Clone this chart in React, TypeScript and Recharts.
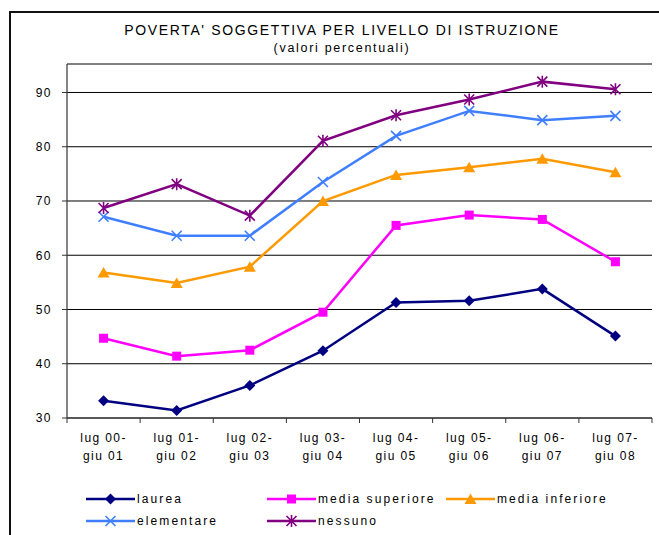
import React from 'react';
import { LineChart, Line, XAxis, YAxis, CartesianGrid, Legend } from 'recharts';

// periods (x categories), split into two lines at the dash
const PERIODS = [
  'lug 00-giu 01', 'lug 01-giu 02', 'lug 02-giu 03', 'lug 03-giu 04',
  'lug 04-giu 05', 'lug 05-giu 06', 'lug 06-giu 07', 'lug 07-giu 08',
];

const LAUREA = [33.2, 31.4, 36.0, 42.4, 51.3, 51.6, 53.8, 45.1];
const MEDIA_SUPERIORE = [44.7, 41.4, 42.5, 49.5, 65.5, 67.4, 66.6, 58.8];
const MEDIA_INFERIORE = [56.8, 54.9, 57.9, 70.0, 74.8, 76.2, 77.8, 75.3];
const ELEMENTARE = [67.1, 63.6, 63.6, 73.5, 82.0, 86.6, 84.9, 85.7];
const NESSUNO = [68.7, 73.1, 67.3, 81.1, 85.8, 88.7, 92.0, 90.6];

const Y_TICKS = [30, 40, 50, 60, 70, 80, 90];

type Marker = 'diamond' | 'square' | 'triangle' | 'cross' | 'star';

const SERIES: { key: string; name: string; color: string; marker: Marker; values: number[] }[] = [
  { key: 'laurea', name: 'laurea', color: '#000080', marker: 'diamond', values: LAUREA },
  { key: 'mediaSup', name: 'media superiore', color: '#ff00ff', marker: 'square', values: MEDIA_SUPERIORE },
  { key: 'mediaInf', name: 'media inferiore', color: '#ff9900', marker: 'triangle', values: MEDIA_INFERIORE },
  { key: 'elementare', name: 'elementare', color: '#3f7fff', marker: 'cross', values: ELEMENTARE },
  { key: 'nessuno', name: 'nessuno', color: '#800080', marker: 'star', values: NESSUNO },
];

const data = PERIODS.map((period, i) => {
  const row: Record<string, string | number> = { period };
  SERIES.forEach(s => { row[s.key] = s.values[i]; });
  return row;
});

const W = 659;
const H = 535;
const MARGIN = { top: 64, right: 7, bottom: 57, left: 0 };
const Y_AXIS_W = 67;
const BAND = (W - MARGIN.right - Y_AXIS_W) / PERIODS.length;
const FONT = '"Liberation Sans", Arial, sans-serif';

const drawMarker = (m: Marker, cx: number, cy: number, color: string) => {
  switch (m) {
    case 'diamond':
      return <path d={`M${cx},${cy - 5.5}L${cx + 5.5},${cy}L${cx},${cy + 5.5}L${cx - 5.5},${cy}Z`} fill={color} />;
    case 'square':
      return <rect x={cx - 4.5} y={cy - 4.5} width={9} height={9} fill={color} />;
    case 'triangle':
      return <path d={`M${cx},${cy - 5.5}L${cx + 6},${cy + 5}L${cx - 6},${cy + 5}Z`} fill={color} />;
    case 'cross':
      return (
        <path d={`M${cx - 5},${cy - 5}L${cx + 5},${cy + 5}M${cx + 5},${cy - 5}L${cx - 5},${cy + 5}`}
          stroke={color} strokeWidth={1.6} fill="none" />
      );
    case 'star':
      return (
        <path d={`M${cx - 5},${cy - 5}L${cx + 5},${cy + 5}M${cx + 5},${cy - 5}L${cx - 5},${cy + 5}M${cx},${cy - 6}L${cx},${cy + 6}`}
          stroke={color} strokeWidth={1.6} fill="none" />
      );
  }
};

const makeDot = (m: Marker, color: string) => (props: any) => {
  const { cx, cy, index } = props;
  if (cx == null || cy == null) return <g key={index} />;
  return <g key={index}>{drawMarker(m, cx, cy, color)}</g>;
};

const PeriodTick = (props: any) => {
  const { x, y, payload, index } = props;
  const [top, bottom] = String(payload.value).split('-');
  const left = x - BAND / 2;
  return (
    <g>
      <line x1={left} x2={left} y1={y} y2={y + 5} stroke="#333" />
      {index === PERIODS.length - 1 && (
        <line x1={x + BAND / 2} x2={x + BAND / 2} y1={y} y2={y + 5} stroke="#333" />
      )}
      <text x={x} y={y + 23.5} textAnchor="middle" fontSize={12} fill="#000" letterSpacing={1.4} fontFamily={FONT}>
        {top + '-'}
      </text>
      <text x={x} y={y + 41.5} textAnchor="middle" fontSize={12} fill="#000" letterSpacing={1.4} fontFamily={FONT}>
        {bottom}
      </text>
    </g>
  );
};

const LEGEND_COLS = [86, 267, 446];
const LEGEND_ROWS = [499, 521];
const LEGEND_TOP = 488;

const LegendContent = (props: any) => {
  const payload = props.payload || [];
  const shown = SERIES.filter(s => payload.length === 0 || payload.some((p: any) => p.dataKey === s.key));
  return (
    <div style={{ position: 'relative', width: W, height: 45 }}>
      {shown.map((s, i) => {
        const left = LEGEND_COLS[i % 3];
        const top = LEGEND_ROWS[Math.floor(i / 3)] - LEGEND_TOP - 8;
        return (
          <div key={s.key} style={{ position: 'absolute', left, top, height: 16, display: 'flex', alignItems: 'center' }}>
            <svg width={50} height={16} style={{ display: 'block' }}>
              <line x1={0} x2={49} y1={8} y2={8} stroke={s.color} strokeWidth={2.5} />
              {drawMarker(s.marker, 24.5, 8, s.color)}
            </svg>
            <span style={{ fontSize: 12, letterSpacing: 2.1, color: '#000', fontFamily: FONT, marginLeft: 1, whiteSpace: 'nowrap' }}>{s.name}</span>
          </div>
        );
      })}
    </div>
  );
};

export default function App() {
  return (
    <div style={{ position: 'absolute', left: 0, top: 0, width: W, height: H, overflow: 'hidden', background: '#fff', fontFamily: FONT }}>
      <div style={{ position: 'absolute', left: 9, top: 11, width: 720, height: 600, borderLeft: '2px solid #111', borderTop: '2px solid #111' }} />
      <div style={{ position: 'absolute', left: 0, width: 684, top: 22, lineHeight: '16px', textAlign: 'center', fontSize: 14, letterSpacing: 1.65, color: '#000' }}>
        POVERTA' SOGGETTIVA PER LIVELLO DI ISTRUZIONE
      </div>
      <div style={{ position: 'absolute', left: 0, width: 684, top: 41, lineHeight: '14px', textAlign: 'center', fontSize: 12.5, letterSpacing: 1.7, color: '#000' }}>
        (valori percentuali)
      </div>
      <div style={{ position: 'absolute', left: 0, top: 0 }}>
        <LineChart width={W} height={H} data={data} margin={MARGIN}>
          <CartesianGrid vertical={false} stroke="#000" strokeWidth={1} />
          <XAxis
            dataKey="period"
            height={60}
            interval={0}
            tickSize={0}
            tickMargin={0}
            tickLine={false}
            padding={{ left: BAND / 2, right: BAND / 2 }}
            axisLine={{ stroke: '#333', strokeWidth: 1.2 }}
            tick={<PeriodTick />}
          />
          <XAxis xAxisId="top" dataKey="period" orientation="top" height={0} tick={false} tickLine={false} axisLine={{ stroke: '#888', strokeWidth: 1.5 }} />
          <YAxis
            domain={[30, 95.25]}
            ticks={Y_TICKS}
            width={Y_AXIS_W}
            tickSize={5}
            tickMargin={10}
            axisLine={{ stroke: '#333', strokeWidth: 1.2 }}
            tickLine={{ stroke: '#333' }}
            tick={{ fill: '#000', fontSize: 12, letterSpacing: 1.5, fontFamily: FONT }}
          />
          <YAxis yAxisId="right" orientation="right" domain={[30, 95.25]} width={0} tick={false} tickLine={false} axisLine={{ stroke: '#888', strokeWidth: 1.5 }} />
          {SERIES.map(s => (
            <Line
              key={s.key}
              type="linear"
              dataKey={s.key}
              name={s.name}
              stroke={s.color}
              strokeWidth={2.5}
              dot={makeDot(s.marker, s.color)}
              activeDot={false}
              isAnimationActive={false}
            />
          ))}
          <Legend
            layout="vertical"
            align="center"
            verticalAlign="middle"
            wrapperStyle={{ top: LEGEND_TOP, left: 0, width: W }}
            content={<LegendContent />}
          />
        </LineChart>
      </div>
    </div>
  );
}
